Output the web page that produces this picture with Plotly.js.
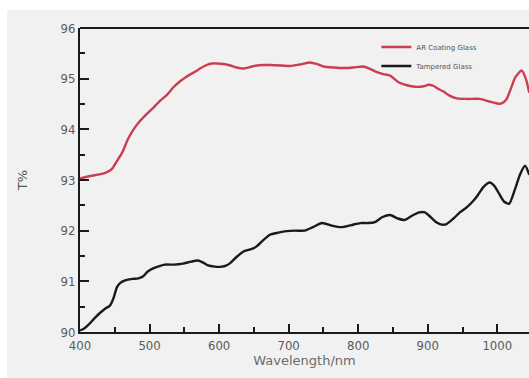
<!DOCTYPE html>
<html><head><meta charset="utf-8">
<script src="https://cdn.plot.ly/plotly-3.0.1.min.js"></script>
<style>html,body{margin:0;padding:0;background:#fff}#c{width:529px;height:378px}</style>
</head><body><div id="c"></div>
<script>
var arX = [400,415,428,438,446,453,461,469,478,486,495,505,515,525,535,544,552,558,566,574,582,590,597,606,616,625,635,645,654,664,673,690,702,716,731,740,750,765,779,793,807,816,827,836,846,858,870,882,894,901,908,915,922,932,942,958,975,988,1000,1006,1013,1020,1026,1035,1041,1046];
var arY = [93.03,93.08,93.11,93.15,93.22,93.37,93.55,93.81,94.02,94.16,94.29,94.42,94.56,94.68,94.84,94.95,95.03,95.08,95.14,95.21,95.27,95.30,95.30,95.29,95.26,95.22,95.20,95.23,95.26,95.27,95.27,95.26,95.25,95.28,95.32,95.29,95.24,95.22,95.21,95.22,95.24,95.20,95.13,95.09,95.06,94.93,94.87,94.84,94.85,94.88,94.86,94.80,94.75,94.66,94.61,94.60,94.60,94.55,94.51,94.51,94.59,94.82,95.03,95.16,95.00,94.72];

var tgX = [400,406,412,420,429,436,443,448,453,458,465,471,477,484,491,497,503,512,522,535,548,560,570,577,583,594,604,610,616,625,635,645,654,664,673,685,697,710,723,735,748,762,776,790,803,814,824,835,846,857,867,878,888,896,904,913,920,927,937,947,956,965,972,980,989,996,1003,1010,1017,1025,1033,1040,1046];
var tgY = [90.03,90.07,90.14,90.26,90.38,90.46,90.52,90.66,90.88,90.97,91.02,91.04,91.05,91.06,91.10,91.19,91.24,91.29,91.33,91.33,91.35,91.39,91.41,91.37,91.32,91.29,91.29,91.31,91.36,91.48,91.59,91.63,91.69,91.82,91.92,91.96,91.99,92.00,92.00,92.07,92.15,92.10,92.07,92.11,92.15,92.15,92.17,92.27,92.31,92.24,92.21,92.30,92.36,92.36,92.27,92.16,92.12,92.13,92.24,92.37,92.46,92.58,92.70,92.86,92.95,92.88,92.72,92.57,92.53,92.80,93.12,93.28,93.10];

var legendNames = ['AR Coating Glass','Tampered Glass'];

var tickFont = {family:'DejaVu Sans Condensed, DejaVu Sans', size:13, color:'#5a5a5a'};

var data = [
  {x:arX, y:arY, name:legendNames[0], type:'scatter', mode:'lines',
   line:{color:'#cc3d52', width:2.4, shape:'spline', smoothing:0.6}},
  {x:tgX, y:tgY, name:legendNames[1], type:'scatter', mode:'lines',
   line:{color:'#1a1a1a', width:2.4, shape:'spline', smoothing:0.6}}
];

var layout = {
  width:529, height:378,
  paper_bgcolor:'#f1f1f1', plot_bgcolor:'#f1f1f1',
  margin:{l:80, r:0, t:28, b:46},
  showlegend:true,
  legend:{x:0.66, y:0.985, xanchor:'left', yanchor:'top', bgcolor:'rgba(0,0,0,0)',
    font:{family:'DejaVu Sans', size:7, color:'#555'}, tracegroupgap:0, itemwidth:30},
  xaxis:{range:[400,1045.6], tickmode:'linear', tick0:400, dtick:100,
    ticks:'inside', ticklen:8, tickwidth:2, tickcolor:'#1a1a1a',
    minor:{dtick:50, ticks:'inside', ticklen:5, tickwidth:2, tickcolor:'#1a1a1a', showgrid:false},
    showline:true, linecolor:'#1a1a1a', linewidth:2, mirror:false,
    showgrid:false, zeroline:false, tickfont:tickFont,
    title:{text:'Wavelength/nm', font:{family:'DejaVu Sans', size:13, color:'#6a6a6a'}, standoff:4}},
  yaxis:{range:[90,96], tickmode:'linear', tick0:90, dtick:1,
    ticks:'inside', ticklen:9, tickwidth:2, tickcolor:'#1a1a1a',
    minor:{dtick:0.5, ticks:'inside', ticklen:5, tickwidth:2, tickcolor:'#1a1a1a', showgrid:false},
    showline:true, linecolor:'#1a1a1a', linewidth:2, mirror:false,
    showgrid:false, zeroline:false, tickfont:tickFont,
    title:{text:'T%', font:{family:'DejaVu Sans', size:13, color:'#555'}, standoff:30}},
  shapes:[
    {type:'rect', xref:'paper', yref:'paper', x0:-80/449, x1:1.01, y0:1+18/304, y1:1+28/304,
     fillcolor:'#ffffff', line:{width:0}},
    {type:'rect', xref:'paper', yref:'paper', x0:-80/449, x1:-73/449, y0:-46/304, y1:1+28/304,
     fillcolor:'#ffffff', line:{width:0}},
    {type:'line', xref:'paper', yref:'paper', x0:0, x1:1.05, y0:1, y1:1,
     line:{color:'#1a1a1a', width:2}}
  ]
};
Plotly.newPlot('c', data, layout, {displayModeBar:false, staticPlot:true});
</script></body></html>
